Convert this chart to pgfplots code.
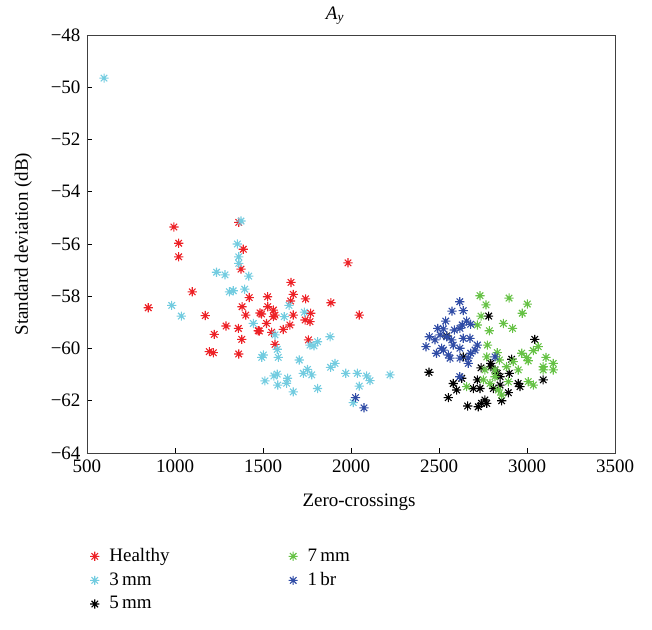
\documentclass[border=0pt]{standalone}
\usepackage{fontspec}
\setmainfont{Liberation Serif}
\usepackage{pgfplots}
\pgfplotsset{compat=1.18}
\definecolor{cHealthy}{rgb}{0.93,0.13,0.15}
\definecolor{cThree}{rgb}{0.45,0.80,0.88}
\definecolor{cFive}{rgb}{0,0,0}
\definecolor{cSeven}{rgb}{0.40,0.76,0.27}
\definecolor{cOne}{rgb}{0.19,0.30,0.65}
\pgfdeclareplotmark{ast8}{%
  \pgfpathmoveto{\pgfqpoint{0pt}{\pgfplotmarksize}}\pgfpathlineto{\pgfqpoint{0pt}{-\pgfplotmarksize}}%
  \pgfpathmoveto{\pgfqpoint{\pgfplotmarksize}{0pt}}\pgfpathlineto{\pgfqpoint{-\pgfplotmarksize}{0pt}}%
  \pgfpathmoveto{\pgfqpoint{0.707\pgfplotmarksize}{0.707\pgfplotmarksize}}\pgfpathlineto{\pgfqpoint{-0.707\pgfplotmarksize}{-0.707\pgfplotmarksize}}%
  \pgfpathmoveto{\pgfqpoint{0.707\pgfplotmarksize}{-0.707\pgfplotmarksize}}\pgfpathlineto{\pgfqpoint{-0.707\pgfplotmarksize}{0.707\pgfplotmarksize}}%
  \pgfusepathqstroke}
\begin{document}
\fontsize{19pt}{24pt}\selectfont
\begin{tikzpicture}
\begin{axis}[name=ax,
  scale only axis, width=528pt, height=418pt,
  xmin=500, xmax=3500, ymin=-64, ymax=-48,
  xtick={500,1000,...,3500},
  xticklabels={500,1000,1500,2000,2500,3000,3500},
  ytick={-64,-62,...,-48},
  yticklabels={−64,−62,−60,−58,−56,−54,−52,−50,−48},
  tick align=inside, xtick pos=bottom, ytick pos=left,
  major tick length=5pt,
  axis line style={black!75, line width=0.9pt},
  tick style={black, line width=0.8pt},
  title={\textit{A}\textsubscript{\textit{y}}},
  title style={yshift=-2pt, xshift=-16pt},
  xlabel={Zero-crossings},
  xlabel style={yshift=-9pt, xshift=8pt},
  ylabel={Standard deviation (dB)},
  ylabel style={yshift=6pt},
  every axis plot/.append style={only marks, mark=ast8, mark size=4.6pt, line width=1.1pt},
  legend columns=2,
  legend cell align=left,
  legend style={draw=none, fill=none, at={(0,-0.218)}, anchor=north west,
    /tikz/every odd column/.append style={column sep=8pt},
    /tikz/every even column/.append style={column sep=117pt},
    row sep=4pt},
]
% Healthy
\addplot[cHealthy, forget plot] coordinates {
(994,-55.35) (1021,-55.97) (1021,-56.49) (1362,-55.17) (1388,-56.2) (1375,-56.96)
(1098,-57.83) (848,-58.44) (1422,-58.05) (1381,-58.4) (1402,-58.72) (1172,-58.74)
(1483,-58.64) (1983,-56.72) (1659,-57.47) (1672,-57.93) (1526,-58.02) (1742,-58.1)
(1886,-58.25) (1657,-58.18) (1527,-58.4) (2047,-58.72) (1559,-58.53) (1771,-58.65)
(1492,-58.68) (1672,-58.72) (1559,-58.78) (1568,-58.72) (1520,-59.04) (1653,-59.1)
(1739,-58.91) (1767,-58.97) (1479,-59.33) (1615,-59.27) (1549,-59.38) (1379,-59.65)
(1758,-59.67) (1568,-59.84) (1290,-59.14) (1360,-59.23) (1223,-59.46) (1473,-59.32)
(1195,-60.12) (1218,-60.16) (1362,-60.21)
};
% 3 mm
\addplot[cThree, forget plot] coordinates {
(597,-49.65) (1375,-55.12) (1354,-56.0) (1362,-56.49) (1362,-56.74) (1236,-57.08)
(1284,-57.18) (1419,-57.23) (1309,-57.83) (1331,-57.79) (1396,-57.73) (981,-58.35)
(1036,-58.76) (1648,-58.35) (1735,-58.61) (1621,-58.78) (1445,-59.04) (1568,-59.48)
(1881,-59.55) (1810,-59.74) (1767,-59.87) (1790,-59.9) (1581,-60.03) (1502,-60.25)
(1493,-60.34) (1587,-60.34) (1706,-60.44) (1909,-60.57) (1884,-60.72) (1753,-60.8)
(1729,-60.95) (1777,-61.01) (1581,-60.98) (1562,-61.05) (1640,-61.14) (1970,-60.95)
(2036,-60.95) (2089,-61.05) (2108,-61.23) (2222,-61.01) (1511,-61.24) (1634,-61.33)
(1584,-61.4) (2047,-61.44) (1810,-61.53) (1672,-61.66) (2013,-62.07)
};
% 5 mm
\addplot[cFive, forget plot] coordinates {
(2782,-58.76) (2544,-59.52) (3044,-59.65) (2638,-60.32) (2913,-60.41) (2443,-60.91)
(2739,-60.74) (2795,-60.7) (2818,-60.82) (2899,-60.95) (2847,-61.08) (3092,-61.2)
(2629,-61.14) (2581,-61.34) (2718,-61.2) (2950,-61.34) (2960,-61.46) (2847,-61.4)
(2695,-61.53) (2733,-61.53) (2600,-61.59) (2809,-61.53) (2894,-61.69) (2553,-61.88)
(2856,-62.0) (2761,-61.97) (2742,-62.1) (2771,-62.1) (2723,-62.23) (2663,-62.2)
(2794,-60.57) (2831,-60.95)
};
% 7 mm
\addplot[cSeven, forget plot] coordinates {
(2733,-57.98) (2898,-58.07) (3002,-58.3) (2767,-58.33) (2973,-58.65) (2739,-58.76)
(2866,-59.04) (2718,-59.1) (2918,-59.23) (2786,-59.32) (2775,-59.87) (3064,-59.93)
(3036,-60.08) (2831,-60.16) (2970,-60.18) (2998,-60.34) (3007,-60.47) (2771,-60.32)
(2843,-60.44) (3108,-60.34) (2922,-60.5) (3149,-60.57) (3092,-60.7) (3149,-60.82)
(3092,-60.82) (2884,-60.7) (2950,-60.82) (2818,-60.82) (2761,-60.82) (3007,-61.27)
(3036,-61.4) (2752,-61.2) (2657,-61.46) (2837,-61.59) (2894,-61.27) (2818,-61.08)
(2856,-61.78) (2790,-61.34)
};
% 1 br
\addplot[cOne, forget plot] coordinates {
(2026,-61.88) (2074,-62.27)
(2618,-58.21) (2574,-58.57) (2638,-58.55) (2538,-58.95) (2657,-58.95) (2680,-59.07)
(2632,-59.1) (2493,-59.23) (2525,-59.25) (2587,-59.29) (2619,-59.23) (2445,-59.55)
(2477,-59.67) (2572,-59.67) (2638,-59.61) (2676,-59.61) (2426,-59.93) (2515,-59.99)
(2581,-59.87) (2619,-59.99) (2718,-59.87) (2705,-60.06) (2486,-60.18) (2553,-60.25)
(2563,-60.37) (2619,-60.37) (2666,-60.37) (2680,-60.18) (2666,-60.57) (2818,-60.32)
(2618,-61.08) (2525,-60.06) (2506,-59.48) (2544,-59.55)
};
\addlegendimage{only marks, mark=ast8, mark size=4.6pt, line width=1.1pt, cHealthy}
\addlegendentry{Healthy}
\addlegendimage{only marks, mark=ast8, mark size=4.6pt, line width=1.1pt, cSeven}
\addlegendentry{7\,mm}
\addlegendimage{only marks, mark=ast8, mark size=4.6pt, line width=1.1pt, cThree}
\addlegendentry{3\,mm}
\addlegendimage{only marks, mark=ast8, mark size=4.6pt, line width=1.1pt, cOne}
\addlegendentry{1\,br}
\addlegendimage{only marks, mark=ast8, mark size=4.6pt, line width=1.1pt, cFive}
\addlegendentry{5\,mm}
\end{axis}
\path ([xshift=-87pt,yshift=-176pt]ax.south west) rectangle ([xshift=37pt,yshift=35pt]ax.north east);
\end{tikzpicture}
\end{document}
